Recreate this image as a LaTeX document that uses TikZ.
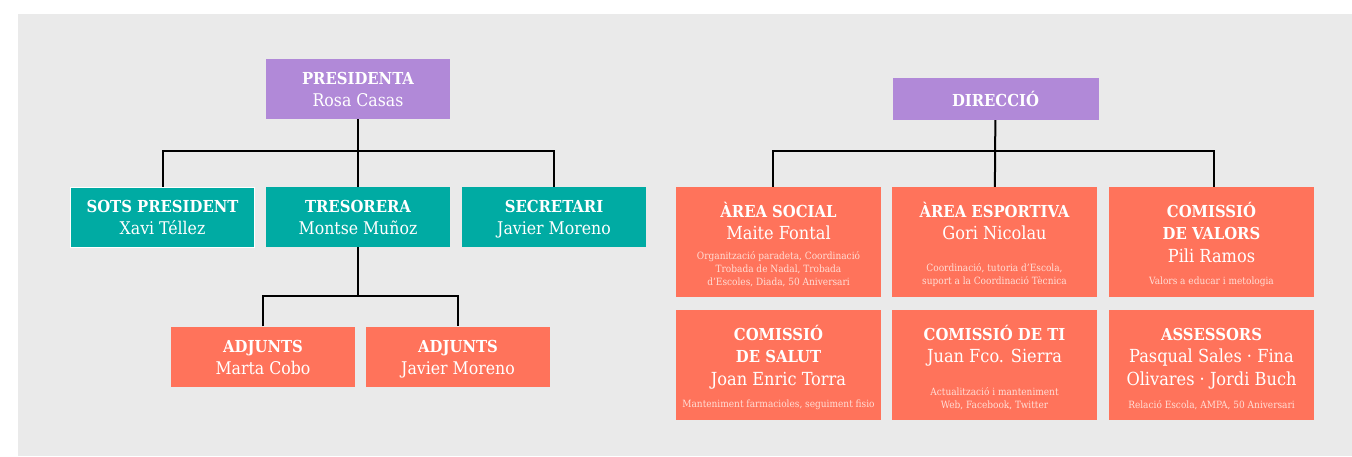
\documentclass[tikz,border=0pt]{standalone}
\usepackage{fontspec}
\setmainfont{DejaVu Serif Condensed}
\definecolor{lila}{RGB}{177,137,216}
\definecolor{verd}{RGB}{0,171,163}
\definecolor{coral}{RGB}{255,115,91}
\definecolor{fons}{RGB}{234,234,234}
\definecolor{nota}{RGB}{255,222,214}
\newcommand{\tit}[1]{{\fontsize{16.5}{22}\selectfont\bfseries\rule{0pt}{17pt}#1}}
\tikzset{
  caixa/.style={rectangle, minimum width=184pt, minimum height=60pt, inner sep=0pt,
    text=white, align=center, font=\fontsize{17.5}{22}\selectfont},
  capcaixa/.style={caixa, fill=lila},
  membre/.style={caixa, fill=verd},
  adjunt/.style={caixa, fill=coral},
  area/.style={rectangle, fill=coral, minimum width=205pt, minimum height=110pt, inner sep=0pt},
  titol/.style={text=white, align=center, inner sep=0pt, anchor=north,
    font=\fontsize{18}{22.5}\selectfont},
  nota/.style={text=nota, align=center, inner sep=0pt, anchor=south,
    font=\fontsize{10}{13}\selectfont},
  lligam/.style={line width=2pt, black}
}
\begin{document}
\begin{tikzpicture}[x=1pt, y=-1pt]
\useasboundingbox (0,0) rectangle (1352,456);
\fill[fons] (18,14) rectangle (1352,456);
% junta
\node[capcaixa] (pres) at (358,89) {\tit{PRESIDENTA}\\Rosa Casas\vphantom{gJ}};
\node[membre, draw=white, line width=1pt] (sots) at (162.5,217) {\tit{SOTS PRESIDENT}\\Xavi Téllez\vphantom{gJ}};
\node[membre] (tres) at (358,217) {\tit{TRESORERA}\\Montse Muñoz\vphantom{gJ}};
\node[membre] (secr) at (554,217) {\tit{SECRETARI}\\Javier Moreno\vphantom{gJ}};
\node[adjunt] (adj1) at (263,356.5) {\tit{ADJUNTS}\\Marta Cobo\vphantom{gJ}};
\node[adjunt] (adj2) at (458,356.5) {\tit{ADJUNTS}\\Javier Moreno\vphantom{gJ}};
\coordinate (pbus) at (0,151);
\coordinate (abus) at (0,296);
\draw[lligam] (pres) -- (tres);
\draw[lligam] (sots.north) -- (sots.north |- pbus) -- (secr.north |- pbus) -- (secr.north);
\draw[lligam] (tres) -- (tres |- abus);
\draw[lligam] (adj1.north) -- (adj1.north |- abus) -- (adj2.north |- abus) -- (adj2.north);
% direccio
\node[capcaixa, minimum width=206pt, minimum height=42pt] (dir) at (995.5,99) {\textbf{\fontsize{16.5}{22}\selectfont DIRECCIÓ}};
\node[area] (social) at (778.5,242) {};
\node[area] (esport) at (994.5,242) {};
\node[area] (valors) at (1211.5,242) {};
\node[area] (salut) at (778.5,365) {};
\node[area] (ti) at (994.5,365) {};
\node[area] (assess) at (1211.5,365) {};
\node[titol] (socialt) at ([yshift=-13pt]social.north) {\tit{ÀREA SOCIAL}\\Maite Fontal};
\node[titol] (esportt) at ([yshift=-13pt]esport.north) {\tit{ÀREA ESPORTIVA}\\Gori Nicolau};
\node[titol] (valorst) at ([yshift=-13pt]valors.north) {\tit{COMISSIÓ}\\\tit{DE VALORS}\\Pili Ramos};
\node[titol] (salutt) at ([yshift=-13pt]salut.north) {\tit{COMISSIÓ}\\\tit{DE SALUT}\\Joan Enric Torra};
\node[titol] (tit) at ([yshift=-13pt]ti.north) {\tit{COMISSIÓ DE TI}\\Juan Fco. Sierra};
\node[titol] (assesst) at ([yshift=-13pt]assess.north) {\tit{ASSESSORS}\\Pasqual Sales · Fina\\Olivares · Jordi Buch};
\node[nota] (socialn) at ([yshift=10pt]social.south) {Organització paradeta, Coordinació\\Trobada de Nadal, Trobada\\d’Escoles, Diada, 50 Aniversari};
\node[nota] (esportn) at ([yshift=10pt]esport.south) {Coordinació, tutoria d’Escola,\\suport a la Coordinació Tècnica};
\node[nota] (valorsn) at ([yshift=10pt]valors.south) {Valors a educar i metologia};
\node[nota] (salutn) at ([yshift=10pt]salut.south) {Manteniment farmacioles, seguiment fisio};
\node[nota] (tin) at ([yshift=10pt]ti.south) {Actualització i manteniment\\Web, Facebook, Twitter};
\node[nota] (assessn) at ([yshift=10pt]assess.south) {Relació Escola, AMPA, 50 Aniversari};
\coordinate (dbus) at (0,151);
\draw[lligam] (dir) -- (esport);
\draw[lligam] ([xshift=-6pt]social.north) -- ([xshift=-6pt]social.north |- dbus) -- ([xshift=2.5pt]valors.north |- dbus) -- ([xshift=2.5pt]valors.north);
\end{tikzpicture}
\end{document}
